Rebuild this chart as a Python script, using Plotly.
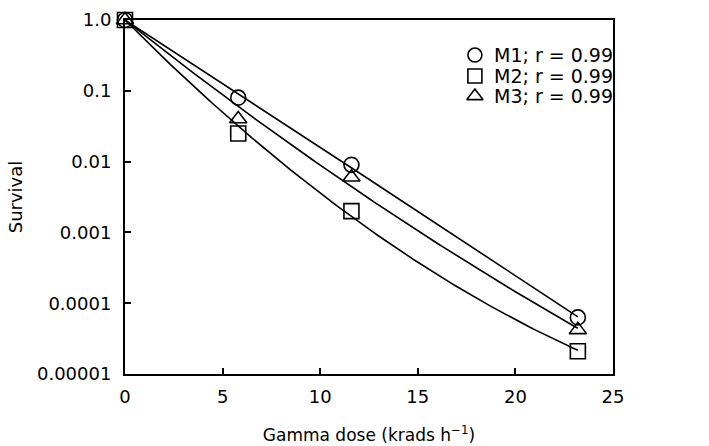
import numpy as np
import plotly.graph_objects as go

dose = [0, 5.8, 11.6, 23.2]
m1 = [1.0, 0.08, 0.009, 0.000063]
m2 = [1.0, 0.025, 0.002, 0.000021]
m3 = [1.0, 0.04, 0.006, 0.000042]
names = ["M1; r = 0.99", "M2; r = 0.99", "M3; r = 0.99"]
symbols = ["circle-open", "square-open", "triangle-up-open"]
ytick_vals = [1, 0.1, 0.01, 0.001, 0.0001, 0.00001]
ytick_text = ["1.0", "0.1", "0.01", "0.001", "0.0001", "0.00001"]
xtick_vals = [0, 5, 10, 15, 20, 25]

# legend layout (paper fractions)
leg_sym_x = 0.717
leg_txt_x = 0.752
leg_rows_y = [0.901, 0.842, 0.785]

FONT = "DejaVu Sans, Verdana, sans-serif"
fig = go.Figure()

xs = np.array(dose, dtype=float)
xfine = np.linspace(0, max(dose), 200)
for ys in (m1, m2, m3):
    ly = np.log10(np.array(ys))
    A = np.vstack([xs, xs ** 2]).T
    coef, *_ = np.linalg.lstsq(A, ly, rcond=None)
    yfit = 10 ** (coef[0] * xfine + coef[1] * xfine ** 2)
    fig.add_trace(go.Scatter(x=xfine, y=yfit, mode="lines",
                             line=dict(color="black", width=1.6),
                             showlegend=False, hoverinfo="skip"))

for ys, nm, sym in zip((m1, m2, m3), names, symbols):
    fig.add_trace(go.Scatter(x=dose, y=ys, mode="markers", name=nm,
                             marker=dict(symbol=sym, size=15, color="black",
                                         line=dict(color="black", width=1.6)),
                             cliponaxis=False, showlegend=False))

# manual legend: symbols on an overlay axis spanning the plot area
for nm, sym, yy in zip(names, symbols, leg_rows_y):
    fig.add_trace(go.Scatter(x=[leg_sym_x], y=[yy], mode="markers",
                             marker=dict(symbol=sym, size=14, color="black",
                                         line=dict(color="black", width=1.6)),
                             xaxis="x2", yaxis="y2", showlegend=False,
                             hoverinfo="skip"))
    fig.add_annotation(x=leg_txt_x, y=yy, xref="paper", yref="paper",
                       text=nm, showarrow=False, xanchor="left", yanchor="middle",
                       font=dict(family=FONT, size=19, color="black"))

fig.update_layout(
    width=709, height=446,
    margin=dict(l=125, r=96, t=20, b=72),
    paper_bgcolor="white", plot_bgcolor="white",
    font=dict(family=FONT, size=18, color="black"),
    showlegend=False,
    xaxis2=dict(overlaying="x", range=[0, 1], visible=False, automargin=False),
    yaxis2=dict(overlaying="y", range=[0, 1], visible=False, automargin=False),
    xaxis=dict(range=[0, 25], tickvals=xtick_vals, ticks="inside", ticklen=6,
               tickwidth=1.5, tickcolor="black", ticklabelstandoff=5,
               automargin=False,
               showline=True, linecolor="black", linewidth=2, mirror=True,
               showgrid=False, zeroline=False,
               tickfont=dict(size=18, family=FONT),
               title=dict(text="Gamma dose (krads h<sup>\u22121</sup>)",
                          font=dict(size=17, family=FONT), standoff=24)),
    yaxis=dict(type="log", range=[-5, 0], tickvals=ytick_vals, ticktext=ytick_text,
               ticks="inside", ticklen=6, tickwidth=1.5, tickcolor="black",
               ticklabelstandoff=8, automargin=False,
               showline=True, linecolor="black", linewidth=2, mirror=True,
               showgrid=False, zeroline=False,
               tickfont=dict(size=18, family=FONT),
               title=dict(text="Survival", font=dict(size=18, family=FONT), standoff=10)),
)

fig.write_html("out.html")
